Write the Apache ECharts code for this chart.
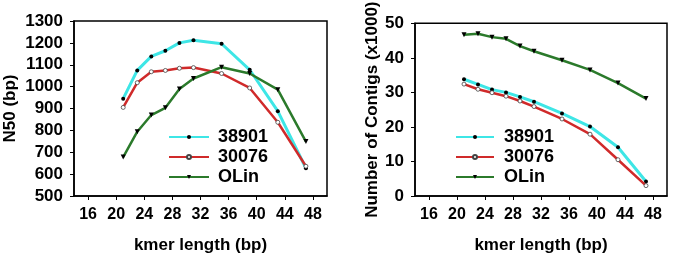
<!DOCTYPE html>
<html><head><meta charset="utf-8">
<script src="https://cdn.jsdelivr.net/npm/echarts@6/dist/echarts.min.js"></script>
<style>html,body{margin:0;padding:0;background:#fff}#c{width:673px;height:259px}</style>
</head><body><div id="c"></div>
<script>
const kmer = [21, 23, 25, 27, 29, 31, 35, 39, 43, 47];
const xTicks = [16, 20, 24, 28, 32, 36, 40, 44, 48];
const seriesNames = ['38901', '30076', 'OLin'];
// N50 (bp)
const n50_38901 = [945, 1074, 1138, 1164, 1200, 1212, 1196, 1077, 888, 627];
const n50_30076 = [905, 1018, 1068, 1074, 1084, 1087, 1060, 994, 837, 636];
const n50_OLin  = [678, 794, 870, 903, 989, 1037, 1089, 1060, 986, 749];
// Number of contigs (x1000)
const nc_38901 = [33.8, 32.3, 30.8, 30.0, 28.7, 27.3, 23.9, 20.1, 14.1, 4.2];
const nc_30076 = [32.4, 30.9, 29.9, 28.9, 27.5, 25.9, 22.3, 17.9, 10.5, 3.0];
const nc_OLin  = [46.7, 47.0, 46.0, 45.5, 43.4, 41.9, 39.3, 36.5, 32.7, 28.2];

const FONT = 'Liberation Sans, Arial, sans-serif';
const colors = ['#3ee6e6', '#d02a2a', '#2b7a2b'];
const pairs = (ys) => kmer.map((x, i) => [x, ys[i]]);

function mkSeries(name, data, idx, c) {
  const base = {
    name, type: 'line', data: pairs(data), xAxisIndex: idx, yAxisIndex: idx,
    lineStyle: { color: colors[c], width: c === 0 ? 3 : 2.5 },
    itemStyle: { color: colors[c] }, z: 2 + c, animation: false
  };
  if (c === 0) { base.symbol = 'circle'; base.symbolSize = 4; base.itemStyle = { color: '#000', borderColor: '#000', borderWidth: 0 }; }
  if (c === 1) { base.symbol = 'circle'; base.symbolSize = 4; base.itemStyle = { color: '#fff', borderColor: '#444', borderWidth: 0.8 }; }
  if (c === 2) { base.symbol = 'triangle'; base.symbolRotate = 180; base.symbolSize = 5; base.itemStyle = { color: '#000', borderWidth: 0 }; }
  return base;
}

const axisCommon = {
  axisLine: { show: true, lineStyle: { color: '#000', width: 1.5 } },
  axisTick: { show: true, inside: false, length: 4, lineStyle: { color: '#000', width: 1 } },
  splitLine: { show: false },
  axisLabel: { color: '#000', fontFamily: FONT, fontWeight: 'bold', fontSize: 17, formatter: (v) => String(v) },
  nameTextStyle: { color: '#000', fontFamily: FONT, fontWeight: 'bold', fontSize: 17 }
};

function xAx(idx) {
  return Object.assign({}, axisCommon, {
    type: 'value', gridIndex: idx, min: 14, max: 50,
    name: 'kmer length (bp)', nameLocation: 'middle', nameGap: 41,
    axisTick: Object.assign({}, axisCommon.axisTick, { customValues: xTicks }),
    axisLabel: Object.assign({}, axisCommon.axisLabel, { customValues: xTicks, margin: 11, fontSize: 16 })
  });
}

const chart = echarts.init(document.getElementById('c'), null, { renderer: 'canvas' });
chart.setOption({
  animation: false,
  backgroundColor: '#fff',
  grid: [
    { left: 74, right: 346, top: 21, bottom: 62, show: true, borderColor: '#000', borderWidth: 1.5, backgroundColor: 'transparent' },
    { left: 415, right: 6, top: 21, bottom: 62, show: true, borderColor: '#000', borderWidth: 1.5, backgroundColor: 'transparent' }
  ],
  xAxis: [xAx(0), xAx(1)],
  yAxis: [
    Object.assign({}, axisCommon, { type: 'value', gridIndex: 0, min: 500, max: 1300, interval: 100,
      name: 'N50 (bp)', nameLocation: 'middle', nameGap: 55,
      axisLabel: Object.assign({}, axisCommon.axisLabel, { margin: 11 }) }),
    Object.assign({}, axisCommon, { type: 'value', gridIndex: 1, min: 0, max: 50, interval: 10,
      name: 'Number of Contigs (x1000)', nameLocation: 'middle', nameGap: 33,
      axisLabel: Object.assign({}, axisCommon.axisLabel, { margin: 11 }) })
  ],
  legend: [
    { orient: 'vertical', left: 163, top: 122, itemWidth: 40, itemHeight: 5, itemGap: 0,
      data: seriesNames,
      textStyle: { color: '#000', fontFamily: FONT, fontWeight: 'bold', fontSize: 18, lineHeight: 20, padding: [0, 0, 0, 4] } },
    { orient: 'vertical', left: 450, top: 122, itemWidth: 38, itemHeight: 5, itemGap: 0,
      data: seriesNames,
      textStyle: { color: '#000', fontFamily: FONT, fontWeight: 'bold', fontSize: 18, lineHeight: 20, padding: [0, 0, 0, 5] } }
  ],
  series: [
    mkSeries('38901', n50_38901, 0, 0),
    mkSeries('30076', n50_30076, 0, 1),
    mkSeries('OLin', n50_OLin, 0, 2),
    mkSeries('38901', nc_38901, 1, 0),
    mkSeries('30076', nc_30076, 1, 1),
    mkSeries('OLin', nc_OLin, 1, 2)
  ]
});
</script></body></html>
